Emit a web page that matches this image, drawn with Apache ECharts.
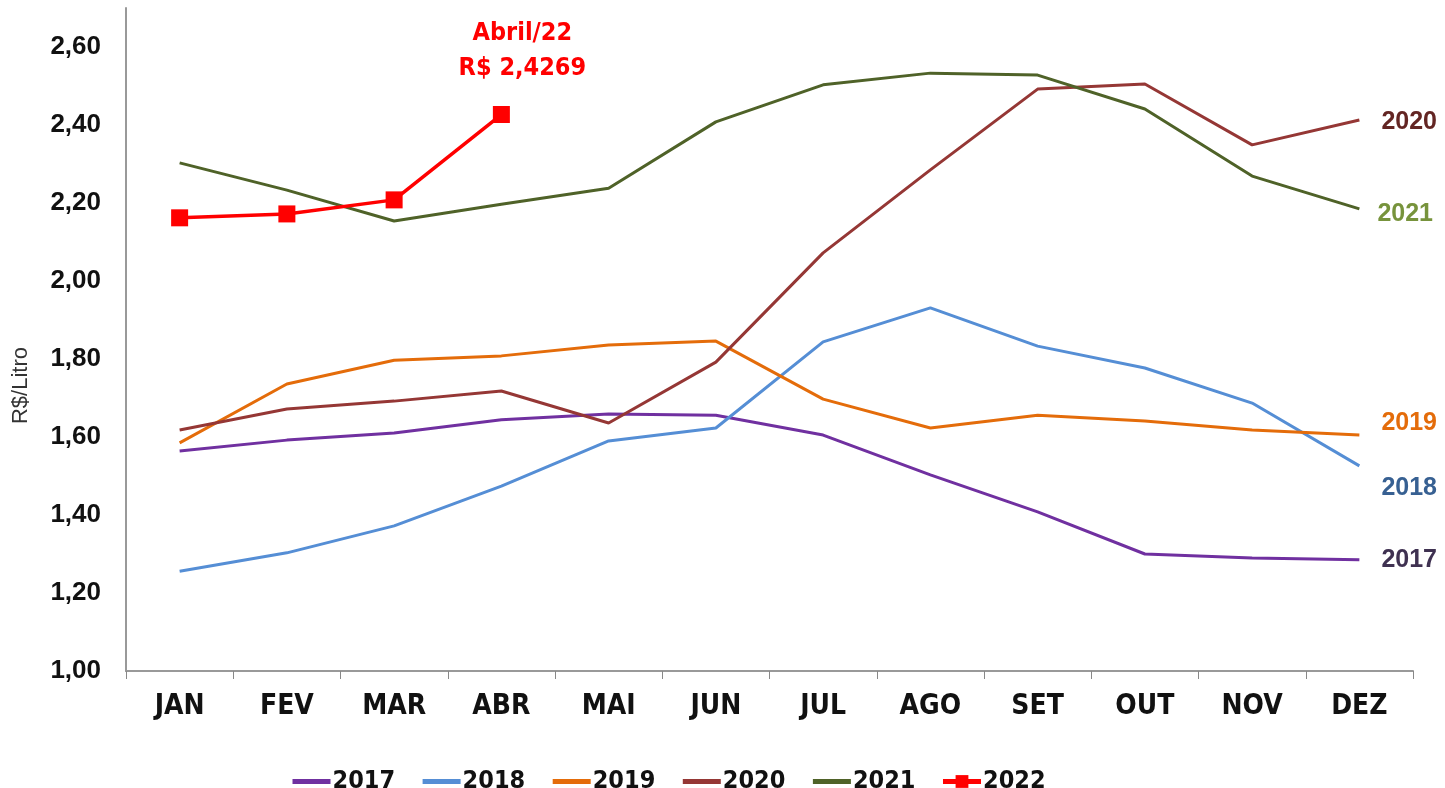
<!DOCTYPE html>
<html><head><meta charset="utf-8">
<script src="https://cdn.jsdelivr.net/npm/echarts@6/dist/echarts.min.js"></script>
<style>html,body{margin:0;padding:0;background:#fff}#c{width:1445px;height:788px}</style>
</head><body><div id="c"></div>
<script>
const months = ['JAN','FEV','MAR','ABR','MAI','JUN','JUL','AGO','SET','OUT','NOV','DEZ'];
const s2017 = [1.564,1.592,1.610,1.644,1.659,1.656,1.605,1.503,1.408,1.300,1.290,1.285];
const s2018 = [1.256,1.303,1.372,1.474,1.590,1.623,1.844,1.931,1.833,1.777,1.687,1.526];
const s2019 = [1.585,1.736,1.797,1.808,1.836,1.846,1.697,1.623,1.656,1.641,1.618,1.605];
const s2020 = [1.618,1.672,1.692,1.718,1.636,1.792,2.072,2.285,2.492,2.505,2.349,2.413];
const s2021 = [2.303,2.233,2.154,2.197,2.238,2.408,2.503,2.533,2.528,2.441,2.269,2.185];
const s2022 = [2.162,2.172,2.208,2.4269];
const yTicks = [1.0,1.2,1.4,1.6,1.8,2.0,2.2,2.4,2.6];

const fmt = v => v.toFixed(2).replace('.', ',');
const narrow = '"DejaVu Sans Condensed","Liberation Sans Narrow","Liberation Sans",Arial,sans-serif';
const arial = '"Liberation Sans",Arial,sans-serif';

function lineSeries(name, data, color, labelColor, offset) {
  return {
    name, type: 'line', data, symbol: 'none', smooth: false,
    lineStyle: { color, width: 3 }, itemStyle: { color },
    endLabel: { show: true, formatter: name, color: labelColor, fontWeight: 'bold',
      fontSize: 25, fontFamily: arial, offset: offset, distance: 22 },
    z: 2
  };
}

const lineLegend = n => ({ name: n, itemStyle: { opacity: 0 }, lineStyle: { width: 5 } });

const chart = echarts.init(document.getElementById('c'));
chart.setOption({
  animation: false,
  grid: { left: 126, right: 32, top: 8, bottom: 117, containLabel: false },
  xAxis: {
    type: 'category', data: months, boundaryGap: true,
    axisLine: { lineStyle: { color: '#999', width: 2 } },
    axisTick: { show: true, length: 8, lineStyle: { color: '#888' } },
    axisLabel: { color: '#111', fontWeight: 'bold', fontSize: 28, fontFamily: narrow, margin: 22 }
  },
  yAxis: {
    type: 'value', min: 1.0, max: 2.7, interval: 0.1,
    name: 'R$/Litro', nameLocation: 'middle', nameGap: 94, nameRotate: 90,
    nameTextStyle: { fontSize: 22, color: '#333', fontFamily: arial, padding: [0, 92, 0, 0] },
    splitLine: { show: false },
    axisLine: { show: true, lineStyle: { color: '#999', width: 2 } },
    axisTick: { show: false },
    axisLabel: { color: '#111', fontWeight: 'bold', fontSize: 26, margin: 25,
      fontFamily: arial,
      formatter: v => { const r = Math.round(v * 10) / 10; return yTicks.some(t => Math.abs(t - r) < 1e-6) ? fmt(r) : ''; } }
  },
  legend: {
    top: 764, left: 285, itemWidth: 38, itemHeight: 16, itemGap: 25,
    textStyle: { color: '#111', fontWeight: 'bold', fontSize: 25, fontFamily: narrow, padding: [0, 0, 0, -3] },
    data: [lineLegend('2017'), lineLegend('2018'), lineLegend('2019'), lineLegend('2020'), lineLegend('2021'),
      { name: '2022', lineStyle: { width: 5 } }]
  },
  series: [
    lineSeries('2017', s2017, '#7030a0', '#3f3151', [0, 0]),
    lineSeries('2018', s2018, '#558ed5', '#376092', [0, 22]),
    lineSeries('2019', s2019, '#e46c0a', '#e46c0a', [0, -12]),
    lineSeries('2020', s2020, '#953735', '#632523', [0, 2]),
    lineSeries('2021', s2021, '#4f6228', '#77933c', [-4, 5]),
    {
      name: '2022', type: 'line', symbol: 'rect', symbolSize: 17, z: 5,
      lineStyle: { color: '#ff0000', width: 3.5 }, itemStyle: { color: '#ff0000' },
      data: s2022.map((v, i) => i === s2022.length - 1 ? {
        value: v,
        label: { show: true, position: 'top', distance: 20, offset: [21, 0],
          formatter: 'Abril/22\nR$ ' + v.toFixed(4).replace('.', ','),
          color: '#ff0000', fontWeight: 'bold', fontSize: 25, lineHeight: 35,
          fontFamily: narrow, align: 'center' }
      } : v)
    }
  ]
});
</script></body></html>
